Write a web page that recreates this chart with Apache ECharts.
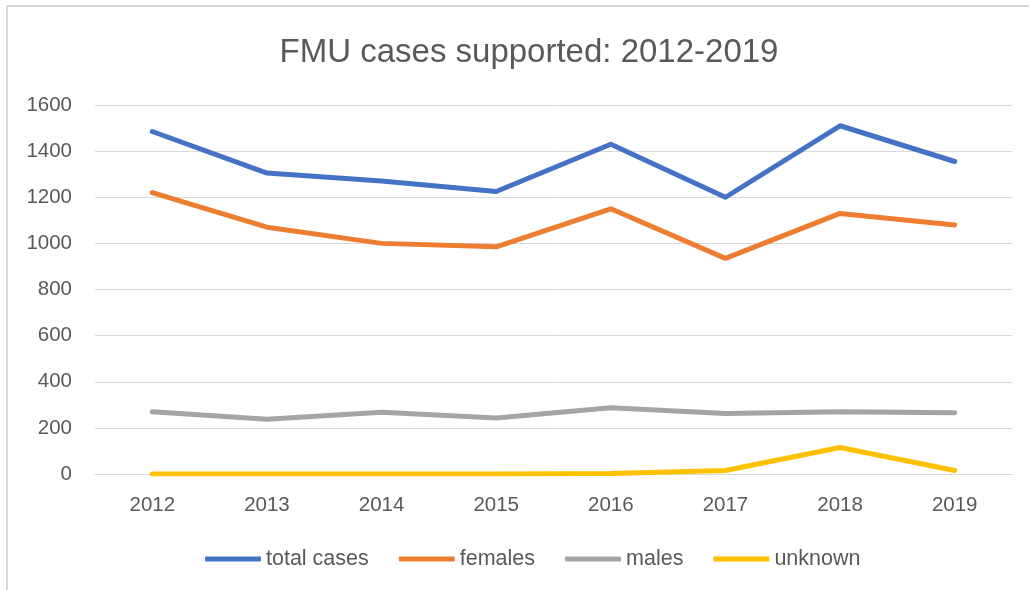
<!DOCTYPE html>
<html>
<head>
<meta charset="utf-8">
<script src="https://cdn.jsdelivr.net/npm/echarts@6/dist/echarts.min.js"></script>
<style>html,body{margin:0;padding:0;background:#fff;}#c{width:1029px;height:590px;}</style>
</head>
<body>
<div id="c"></div>
<script>
const years = ['2012','2013','2014','2015','2016','2017','2018','2019'];
const totalCases = [1485, 1305, 1270, 1225, 1430, 1200, 1510, 1355];
const females = [1220, 1070, 1000, 985, 1150, 935, 1130, 1080];
const males = [270, 237, 268, 243, 287, 262, 270, 266];
const unknown = [0, 0, 0, 0, 2, 15, 115, 15];
const seriesNames = ['total cases', 'females', 'males', 'unknown'];
const colors = ['#4472C4', '#ED7D31', '#A5A5A5', '#FFC000'];
const titleText = 'FMU cases supported: 2012-2019';

const font = 'Liberation Sans, Arial, sans-serif';
const txt = '#595959';
const chart = echarts.init(document.getElementById('c'), null, {renderer: 'canvas'});
const mk = (name, data, i) => ({
  name, type: 'line', data, symbol: 'none', smooth: false,
  lineStyle: {width: 5, color: colors[i], cap: 'round', join: 'round'},
  itemStyle: {color: colors[i]}
});
chart.setOption({
  animation: false,
  backgroundColor: '#fff',
  color: colors,
  title: {text: titleText, left: 524, textAlign: 'center', top: 31,
    textStyle: {fontFamily: font, fontSize: 33, fontWeight: 'normal', color: txt}},
  grid: {left: 95, right: 17, top: 105, bottom: 116, containLabel: false, outerBoundsMode: 'none'},
  xAxis: {type: 'category', data: years, boundaryGap: true,
    axisLine: {show: true, lineStyle: {color: '#d9d9d9', width: 1}},
    axisTick: {show: false},
    axisLabel: {fontFamily: font, fontSize: 20.5, color: txt, margin: 21}},
  yAxis: {type: 'value', min: 0, max: 1600, interval: 200,
    axisLine: {show: false}, axisTick: {show: false},
    splitLine: {lineStyle: {color: '#d9d9d9', width: 1}},
    axisLabel: {fontFamily: font, fontSize: 20.5, color: txt, margin: 23, formatter: v => String(v)}},
  legend: {data: seriesNames, left: 200, top: 543, itemWidth: 56, itemHeight: 5, itemGap: 30,
    icon: 'roundRect',
    textStyle: {fontFamily: font, fontSize: 21.5, color: txt}},
  graphic: [{type: 'rect', shape: {x: 7, y: 6, width: 1100, height: 700},
    style: {fill: 'none', stroke: '#d9d9d9', lineWidth: 2}, silent: true}],
  series: [mk(seriesNames[0], totalCases, 0), mk(seriesNames[1], females, 1), mk(seriesNames[2], males, 2), mk(seriesNames[3], unknown, 3)]
});
</script>
</body>
</html>
